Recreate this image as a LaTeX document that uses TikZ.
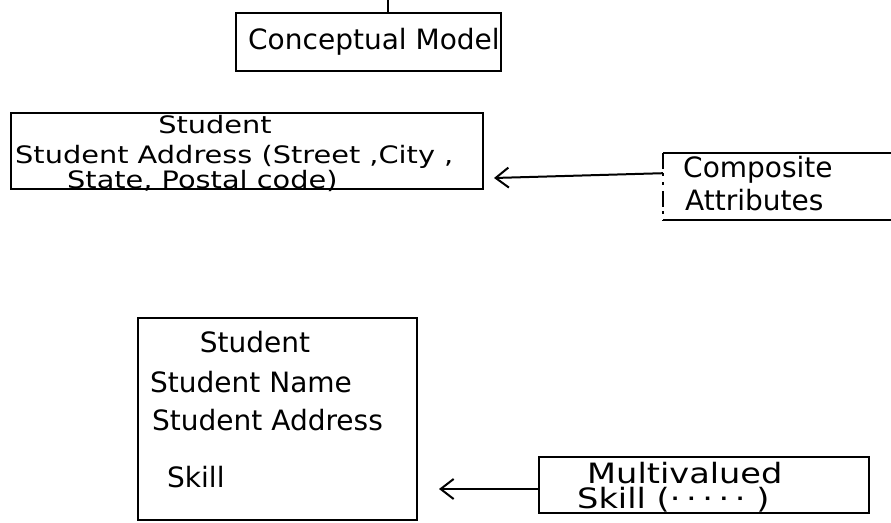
\documentclass[tikz,border=0pt]{standalone}
\usepackage{fontspec}
\setmainfont{DejaVu Sans}
\usetikzlibrary{arrows.meta}
\tikzset{
  box/.style={draw, line width=2pt, inner sep=0pt, anchor=north west},
  openbox/.style={inner sep=0pt, anchor=north west},
  edge/.style={line width=2pt},
  txt/.style={inner sep=0pt, anchor=west, font=\fontsize{28}{30}\selectfont},
  txtsm/.style={inner sep=0pt, anchor=west, font=\fontsize{24}{26}\selectfont},
  conn/.style={line width=2pt, -{Straight Barb[length=13pt,width=20pt,line width=2pt]}}
}
\begin{document}
\begin{tikzpicture}[x=1pt,y=-1pt]
\useasboundingbox (0,0) rectangle (891,522);
\clip (0,0) rectangle (891,522);
\fill[white] (0,0) rectangle (891,522);

% Conceptual model
\node[box, minimum width=265pt, minimum height=58pt] (cm) at (235,12) {};
\node[txt] (cmt) at (248,42) {Conceptual Model};
\draw[edge] ([xshift=19.5pt]cm.north) -- ++(0,-14);

% Student box (top)
\node[box, minimum width=472pt, minimum height=76pt] (s1) at (10,112) {};
\node[txtsm, anchor=center] (s1a) at (215,125) {\scalebox{1.2}[1]{Student}};
\node[txtsm] (s1b) at (15,157) {\scalebox{1.2}[1]{Student Address (Street ,City ,}};
\node[txtsm] (s1c) at (67,181) {\scalebox{1.2}[1]{State, Postal code)}};

% Composite attributes (right side runs off the page)
\node[openbox, minimum width=260pt, minimum height=67pt] (ca) at (663,153) {};
\draw[edge] (ca.north west) -- (ca.north east);
\draw[edge] (ca.south west) -- (ca.south east);
\draw[edge, dash pattern=on 16pt off 4pt on 3pt off 6pt on 3pt off 6pt] (ca.north west) -- (ca.south west);
\node[txt] (ca1) at (683,170) {Composite};
\node[txt] (ca2) at (685,200) {Attributes};
\draw[conn] ([yshift=13.5pt]ca.west) -- ([xshift=10pt,yshift=-27pt]s1.east);

% Student box (bottom)
\node[box, minimum width=279pt, minimum height=202pt] (s2) at (137,317) {};
\node[txt, anchor=center] (s2a) at (255,342) {Student};
\node[txt] (s2b) at (150,382) {Student Name};
\node[txt] (s2c) at (152,420) {Student Address};
\node[txt] (s2d) at (167,477) {Skill};

% Multivalued
\node[box, minimum width=330pt, minimum height=56pt] (mv) at (538,456) {};
\node[txt] (mv1) at (587,473) {\scalebox{1.2}[1]{Multivalued}};
\node[txt] (mv2) at (577,500) {\scalebox{1.2}[1]{Skill (·\,·\,·\,·\,·\ )}};
\draw[conn] ([yshift=-4pt]mv.west) -- ([xshift=21pt,yshift=-70pt]s2.east);
\end{tikzpicture}
\end{document}
